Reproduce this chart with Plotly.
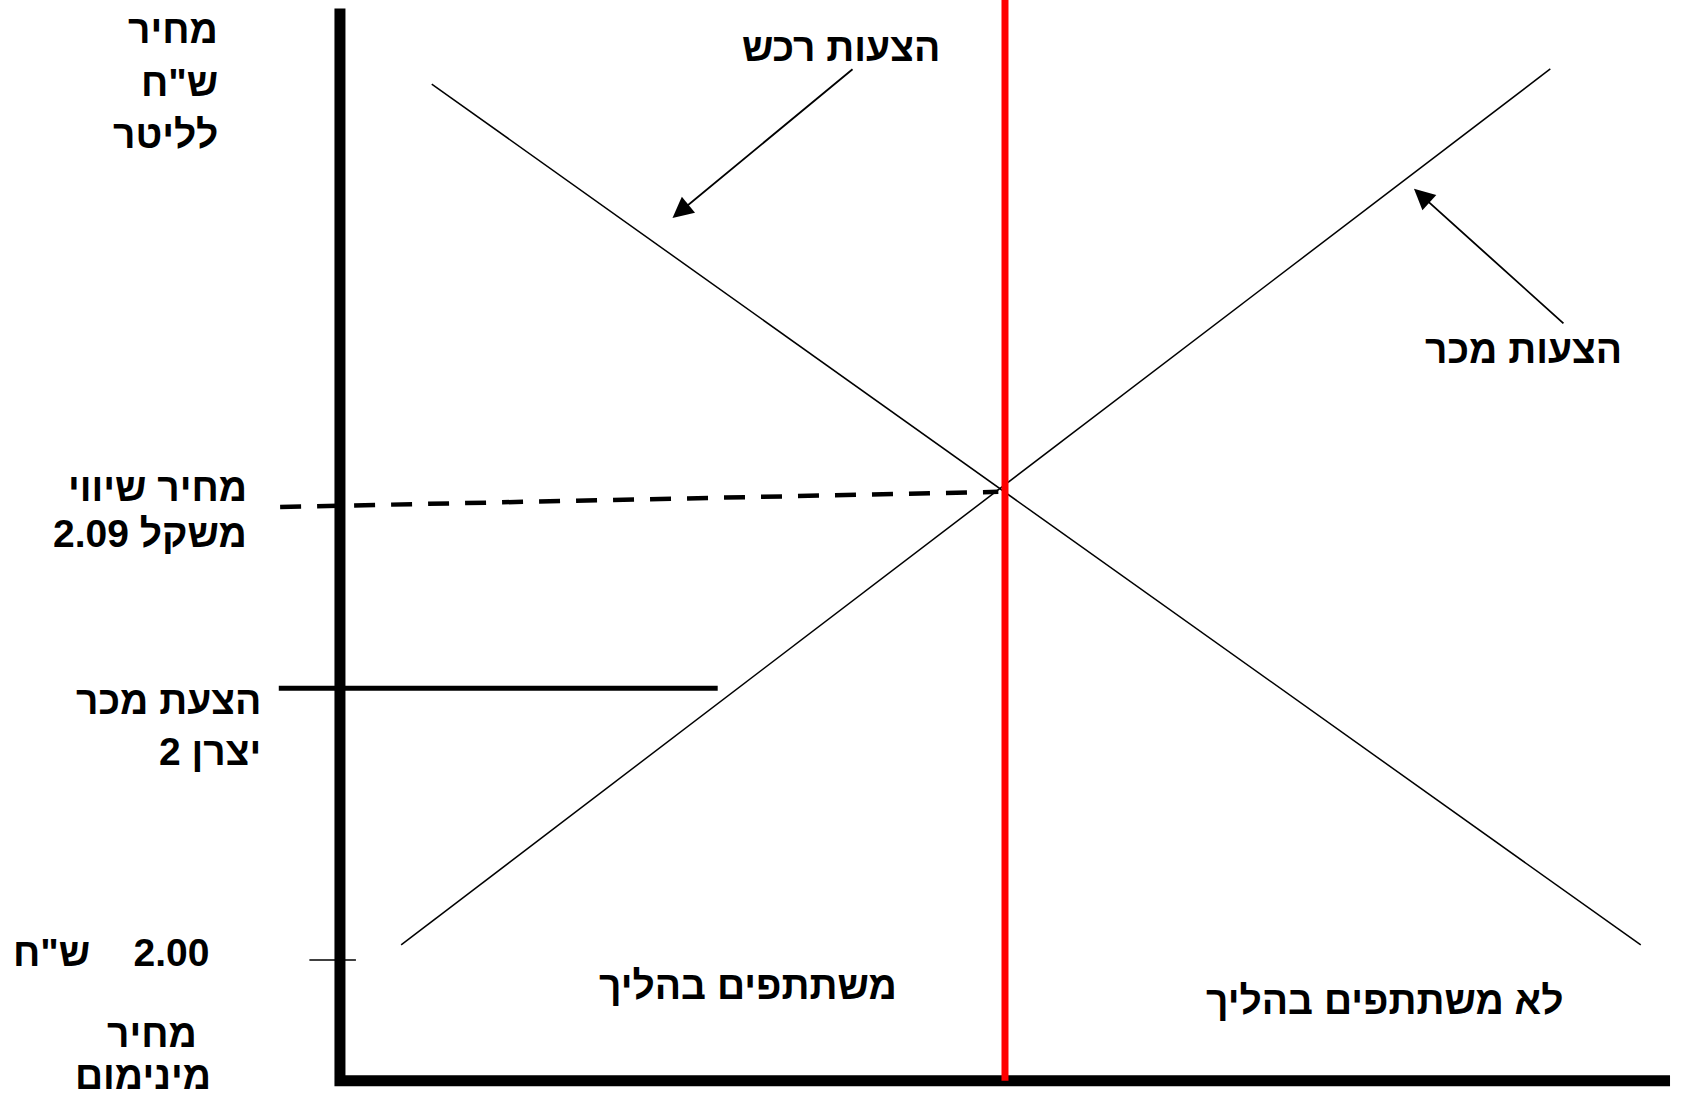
import plotly.graph_objects as go

# Quantity axis (arbitrary units, 0 at the price axis) and price axis (NIS per litre)
Q_AXIS = [0, 0, 100]
P_AXIS = [2.189, 1.976, 1.976]

# Demand (bids) and supply (offers) curves
Q_DEMAND = [6.9, 97.8]
P_DEMAND = [2.174, 2.003]
Q_SUPPLY = [4.6, 91.0]
P_SUPPLY = [2.003, 2.177]

# Cut-off quantity (participants / non participants)
Q_CUTOFF = [50, 50]
P_CUTOFF = [2.195, 1.976]

# Equilibrium price guide (2.09) and producer 2 offer
Q_EQ = [-4.5, 49.5]
P_EQ = [2.090, 2.093]
Q_PROD2 = [-4.6, 28.4]
P_PROD2 = [2.054, 2.054]

# Minimum price tick (2.00)
Q_MIN = [-2.3, 1.2]
P_MIN = [2.00, 2.00]

# Arrow tips / tails pointing at the curves
ARROW_BID = dict(tip=(25.0, 2.1474), tail=(38.65, 2.1772))
ARROW_ASK = dict(tip=(80.75, 2.1532), tail=(92.1, 2.1262))

FONT = "Liberation Sans, Arial, sans-serif"

fig = go.Figure()
fig.add_trace(go.Scatter(x=Q_DEMAND, y=P_DEMAND, mode="lines",
                         line=dict(color="black", width=1.5)))
fig.add_trace(go.Scatter(x=Q_SUPPLY, y=P_SUPPLY, mode="lines",
                         line=dict(color="black", width=1.5)))
fig.add_trace(go.Scatter(x=Q_EQ, y=P_EQ, mode="lines",
                         line=dict(color="black", width=4.5, dash="21px,16px")))
fig.add_trace(go.Scatter(x=Q_PROD2, y=P_PROD2, mode="lines",
                         line=dict(color="black", width=5)))
fig.add_trace(go.Scatter(x=Q_MIN, y=P_MIN, mode="lines",
                         line=dict(color="black", width=1.5)))
fig.add_trace(go.Scatter(x=Q_AXIS, y=P_AXIS, mode="lines",
                         line=dict(color="black", width=11)))
fig.add_trace(go.Scatter(x=Q_CUTOFF, y=P_CUTOFF, mode="lines",
                         line=dict(color="#ff0000", width=7)))

for a in (ARROW_BID, ARROW_ASK):
    fig.add_annotation(x=a["tip"][0], y=a["tip"][1], ax=a["tail"][0], ay=a["tail"][1],
                       xref="x", yref="y", axref="x", ayref="y", text="",
                       showarrow=True, arrowhead=2, arrowsize=2.3, arrowwidth=1.8,
                       arrowcolor="black", standoff=0)

# full page; the body margin is removed after plotting (post_script below)
W, H = 1705, 1100


def label(text, px, py, anchor="right"):
    # px/py: pixel position of the label's anchor point in the page
    fig.add_annotation(text=text, xref="paper", yref="paper",
                       x=px / W, y=1 - py / H,
                       xanchor=anchor, yanchor="middle", showarrow=False,
                       font=dict(family=FONT, size=39, color="black", weight="bold"))


label("מחיר", 220, 30)
label('ש"ח', 220, 83)
label("לליטר", 220, 135)
label("מחיר שיווי", 249, 487)
label("משקל 2.09", 249, 533)
label("הצעת מכר", 263, 700)
label("יצרן 2", 263, 751)
label('\u200f2.00    ש"ח', 211, 952)
label("מחיר", 152, 1033, "center")
label("מינימום", 143, 1075, "center")
label("הצעות רכש", 841, 47, "center")
label("הצעות מכר", 1523, 350, "center")
label("משתתפים בהליך", 748, 985, "center")
label("לא משתתפים בהליך", 1384, 1000, "center")

fig.update_layout(
    width=W, height=H, margin=dict(l=0, r=0, t=0, b=0),
    plot_bgcolor="white", paper_bgcolor="white", showlegend=False,
    hovermode=False,
    xaxis=dict(range=[-25.56, 102.63], visible=False, fixedrange=True),
    yaxis=dict(range=[1.9722, 2.1907], visible=False, fixedrange=True),
)
fig.write_html("out.html", config={"displayModeBar": False},
               post_script="document.body.style.margin='0';document.body.style.overflow='hidden';")
